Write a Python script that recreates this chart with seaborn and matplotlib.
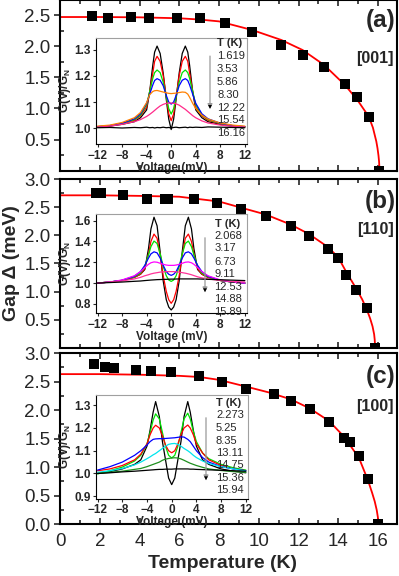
import numpy as np
import pandas as pd
import matplotlib
matplotlib.use("Agg")
import matplotlib.pyplot as plt
import seaborn as sns
from matplotlib.ticker import MultipleLocator, FormatStrFormatter

sns.set_style("ticks")
plt.rcParams['font.family'] = ['Liberation Sans', 'DejaVu Sans']
plt.rcParams['mathtext.fontset'] = 'custom'
plt.rcParams['mathtext.bf'] = 'Liberation Sans:bold'
plt.rcParams['mathtext.rm'] = 'Liberation Sans'

# ---------------- main panel data ----------------
a_T = [1.62, 2.43, 3.56, 4.48, 5.89, 7.06, 8.32, 9.68, 11.14, 12.22, 13.28, 14.34, 14.96, 15.54, 16.03]
a_gap = [2.48, 2.46, 2.47, 2.46, 2.46, 2.46, 2.37, 2.23, 2.02, 1.86, 1.66, 1.39, 1.18, 0.87, 0.0]
a_fitT = [0, 2, 4, 6, 7, 8, 9.68, 11.14, 12.2, 13.28, 14.34, 14.96, 15.53, 15.74, 15.91, 15.97, 16.02, 16.05, 16.07]
a_fit = [2.47, 2.47, 2.465, 2.45, 2.43, 2.40, 2.26, 2.10, 1.94, 1.70, 1.375, 1.135, 0.87, 0.69, 0.47, 0.36, 0.24, 0.14, 0.0]

b_T = [1.80, 2.07, 3.17, 4.40, 5.28, 5.45, 6.73, 7.90, 9.11, 10.34, 11.61, 12.53, 13.48, 13.99, 14.41, 14.88, 15.42, 15.85]
b_gap = [2.76, 2.76, 2.72, 2.65, 2.65, 2.64, 2.64, 2.58, 2.46, 2.34, 2.17, 1.98, 1.76, 1.59, 1.29, 1.03, 0.71, 0.0]
b_fitT = [0, 2, 4, 6, 8, 9.11, 10.34, 11.61, 12.53, 13.48, 13.99, 14.41, 14.87, 15.2, 15.42, 15.6, 15.72, 15.8, 15.83, 15.85]
b_fit = [2.71, 2.71, 2.70, 2.685, 2.60, 2.49, 2.37, 2.19, 2.02, 1.79, 1.61, 1.34, 1.07, 0.86, 0.69, 0.52, 0.38, 0.24, 0.14, 0.0]

c_T = [1.69, 2.28, 2.73, 3.80, 4.56, 5.58, 7.0, 8.17, 9.38, 10.77, 11.6, 12.56, 13.53, 14.3, 14.6, 15.04, 15.49, 16.0]
c_gap = [2.80, 2.76, 2.73, 2.70, 2.68, 2.66, 2.59, 2.49, 2.37, 2.29, 2.16, 2.02, 1.79, 1.51, 1.44, 1.19, 0.80, 0.0]
c_fitT = [0, 2, 4, 6, 7, 8, 9.38, 10.5, 11.6, 12.56, 13.53, 14.3, 15.04, 15.49, 15.7, 15.83, 15.93, 15.99, 16.02]
c_fit = [2.63, 2.63, 2.62, 2.60, 2.58, 2.53, 2.41, 2.31, 2.19, 2.03, 1.81, 1.53, 1.16, 0.77, 0.55, 0.40, 0.25, 0.12, 0.0]

# ---------------- inset data ----------------
Va = [-12, -10, -8, -6, -5, -4, -3.5, -3, -2.7, -2.3, -1.8, -1.3, -0.8, -0.4, 0,
      0.4, 0.8, 1.3, 1.8, 2.3, 2.7, 3, 3.5, 4, 5, 6, 8, 10, 12]
a_G1 = [1.005, 1.008, 1.015, 1.025, 1.04, 1.07, 1.14, 1.24, 1.29, 1.313, 1.285, 1.21, 1.11, 1.035, 0.995,
        1.035, 1.11, 1.21, 1.285, 1.313, 1.29, 1.24, 1.14, 1.07, 1.04, 1.025, 1.015, 1.008, 1.005]
a_G2 = [1.006, 1.009, 1.017, 1.03, 1.047, 1.08, 1.14, 1.21, 1.255, 1.274, 1.255, 1.2, 1.12, 1.055, 1.029,
        1.055, 1.12, 1.2, 1.255, 1.274, 1.255, 1.21, 1.14, 1.08, 1.047, 1.03, 1.017, 1.009, 1.006]
a_G3 = [1.006, 1.01, 1.018, 1.033, 1.05, 1.09, 1.14, 1.19, 1.212, 1.222, 1.212, 1.175, 1.12, 1.075, 1.054,
        1.075, 1.12, 1.175, 1.212, 1.222, 1.212, 1.19, 1.14, 1.09, 1.05, 1.033, 1.018, 1.01, 1.006]
a_G4 = [1.006, 1.01, 1.019, 1.036, 1.055, 1.095, 1.13, 1.165, 1.182, 1.189, 1.183, 1.162, 1.125, 1.1, 1.092,
        1.1, 1.125, 1.162, 1.183, 1.189, 1.182, 1.165, 1.13, 1.095, 1.055, 1.036, 1.019, 1.01, 1.006]
a_G5 = [1.008, 1.012, 1.022, 1.04, 1.06, 1.098, 1.128, 1.14, 1.143, 1.144, 1.141, 1.138, 1.135, 1.133, 1.132,
        1.133, 1.134, 1.136, 1.138, 1.137, 1.13, 1.118, 1.095, 1.075, 1.05, 1.035, 1.02, 1.012, 1.008]
a_G6 = [1.004, 1.008, 1.015, 1.025, 1.033, 1.045, 1.053, 1.062, 1.068, 1.076, 1.085, 1.091, 1.095, 1.096, 1.096,
        1.095, 1.093, 1.088, 1.08, 1.072, 1.064, 1.058, 1.048, 1.04, 1.028, 1.02, 1.012, 1.007, 1.004]
a_G7 = [1.002, 1.003, 1.001, 1.003, 1.002, 1.004, 1.002, 1.003, 1.001, 1.003, 1.002, 1.004, 1.002, 1.003, 1.001,
        1.003, 1.004, 1.002, 1.003, 1.004, 1.002, 1.004, 1.003, 1.004, 1.003, 1.005, 1.004, 1.003, 1.002]
a_temps = ['1.619', '3.53', '5.86', '8.30', '12.22', '15.54', '16.16']
a_colors = ['black', '#ff0000', '#00e000', '#0000ff', '#ff8000', '#ff2a8a', 'black']

Vb = [-12, -10, -8, -6, -5, -4.3, -3.7, -3.3, -2.8, -2.3, -1.8, -1.3, -0.8, -0.4, 0,
      0.4, 0.8, 1.3, 1.8, 2.3, 2.8, 3.3, 3.7, 4.3, 5, 6, 8, 10, 12]
b_G1 = [1.0, 1.01, 1.025, 1.055, 1.085, 1.13, 1.33, 1.52, 1.632, 1.55, 1.3, 1.02, 0.84, 0.77, 0.742,
        0.77, 0.84, 1.02, 1.3, 1.55, 1.632, 1.52, 1.33, 1.13, 1.085, 1.055, 1.025, 1.01, 1.0]
b_G2 = [1.0, 1.01, 1.025, 1.055, 1.085, 1.14, 1.28, 1.4, 1.47, 1.43, 1.27, 1.07, 0.92, 0.84, 0.806,
        0.84, 0.92, 1.07, 1.27, 1.43, 1.47, 1.4, 1.28, 1.14, 1.085, 1.055, 1.025, 1.01, 1.0]
b_G3 = [1.0, 1.01, 1.025, 1.06, 1.095, 1.16, 1.27, 1.35, 1.403, 1.38, 1.28, 1.16, 1.07, 1.03, 1.016,
        1.03, 1.07, 1.16, 1.28, 1.38, 1.403, 1.35, 1.27, 1.16, 1.095, 1.06, 1.025, 1.01, 1.0]
b_G4 = [1.0, 1.01, 1.027, 1.065, 1.11, 1.17, 1.24, 1.28, 1.30, 1.29, 1.24, 1.17, 1.11, 1.085, 1.074,
        1.085, 1.11, 1.17, 1.24, 1.29, 1.30, 1.28, 1.24, 1.17, 1.11, 1.065, 1.027, 1.01, 1.0]
b_G5 = [1.0, 1.01, 1.03, 1.07, 1.11, 1.15, 1.18, 1.195, 1.203, 1.2, 1.19, 1.18, 1.173, 1.17, 1.17,
        1.17, 1.173, 1.18, 1.19, 1.2, 1.203, 1.195, 1.18, 1.15, 1.11, 1.07, 1.03, 1.01, 1.0]
b_G6 = [1.0, 1.01, 1.02, 1.04, 1.055, 1.07, 1.08, 1.088, 1.095, 1.1, 1.105, 1.108, 1.11, 1.11, 1.11,
        1.11, 1.108, 1.105, 1.1, 1.095, 1.088, 1.08, 1.072, 1.06, 1.05, 1.04, 1.025, 1.015, 1.01]
b_G7 = [1.0, 1.005, 1.01, 1.017, 1.02, 1.024, 1.027, 1.029, 1.031, 1.033, 1.034, 1.035, 1.036, 1.037, 1.038,
        1.038, 1.039, 1.04, 1.04, 1.04, 1.04, 1.04, 1.04, 1.04, 1.038, 1.036, 1.032, 1.028, 1.024]
b_temps = ['2.068', '3.17', '6.73', '9.11', '12.53', '14.88', '15.89']
b_colors = ['black', '#ff0000', '#00e000', '#0000ff', '#ff00ff', '#ff3399', 'black']

Vc = [-12, -10, -8, -6, -5, -4, -3.5, -3, -2.6, -2, -1.5, -1, -0.5, 0,
      0.5, 1, 1.5, 2, 2.6, 3, 3.5, 4, 5, 6, 8, 10, 12]
c_G1 = [1.0, 1.008, 1.02, 1.04, 1.06, 1.12, 1.19, 1.27, 1.316, 1.25, 1.14, 1.06, 0.98, 0.951,
        0.98, 1.06, 1.14, 1.25, 1.316, 1.27, 1.19, 1.12, 1.06, 1.04, 1.02, 1.01, 1.003]
c_G2 = [0.998, 1.012, 1.028, 1.055, 1.08, 1.13, 1.18, 1.235, 1.262, 1.24, 1.18, 1.12, 1.08, 1.068,
        1.08, 1.12, 1.18, 1.24, 1.265, 1.24, 1.185, 1.14, 1.09, 1.065, 1.04, 1.025, 1.015]
c_G3 = [1.012, 1.02, 1.035, 1.06, 1.085, 1.13, 1.17, 1.2, 1.212, 1.2, 1.165, 1.125, 1.1, 1.091,
        1.1, 1.13, 1.17, 1.2, 1.213, 1.2, 1.17, 1.13, 1.09, 1.06, 1.035, 1.02, 1.012]
c_G4 = [1.015, 1.03, 1.05, 1.08, 1.1, 1.125, 1.14, 1.15, 1.152, 1.153, 1.153, 1.154, 1.155, 1.156,
        1.157, 1.159, 1.161, 1.16, 1.15, 1.14, 1.12, 1.1, 1.07, 1.05, 1.03, 1.02, 1.012]
c_G5 = [1.005, 1.012, 1.022, 1.038, 1.05, 1.065, 1.073, 1.082, 1.088, 1.1, 1.11, 1.12, 1.128, 1.131,
        1.132, 1.128, 1.12, 1.11, 1.1, 1.092, 1.08, 1.07, 1.055, 1.044, 1.03, 1.02, 1.01]
c_G6 = [1.0, 1.005, 1.01, 1.018, 1.022, 1.03, 1.035, 1.04, 1.044, 1.05, 1.058, 1.063, 1.066, 1.068,
        1.069, 1.068, 1.064, 1.058, 1.05, 1.045, 1.04, 1.035, 1.027, 1.02, 1.013, 1.008, 1.005]
c_G7 = [1.0, 1.003, 1.007, 1.01, 1.012, 1.014, 1.015, 1.016, 1.017, 1.018, 1.018, 1.019, 1.019, 1.019,
        1.02, 1.02, 1.02, 1.02, 1.02, 1.019, 1.019, 1.018, 1.017, 1.016, 1.014, 1.012, 1.01]
c_temps = ['2.273', '5.25', '8.35', '13.11', '14.75', '15.36', '15.94']
c_colors = ['black', '#00e000', '#ff0000', '#0000ff', '#00e5ee', '#1f8f1f', 'black']

panel_tags = ['(a)', '(b)', '(c)']
directions = ['[001]', '[110]', '[100]']

# ---------------- layout helpers ----------------
W, H = 399, 576
fig = plt.figure(figsize=(W / 100, H / 100), dpi=100)


def rect(l, t, r, b):
    return [l / W, 1 - b / H, (r - l) / W, (b - t) / H]


def fx(x):
    return x / W


def fy(y):
    return 1 - y / H


main_rects = [rect(60, -0.4, 397, 170.7), rect(60, 179, 397, 347.8), rect(60, 353, 397, 524.3)]
ylims = [(0, 2.75), (0, 3.0), (0, 3.0)]
yticks = [[0.5, 1.0, 1.5, 2.0, 2.5], [0.5, 1.0, 1.5, 2.0, 2.5, 3.0], [0.0, 0.5, 1.0, 1.5, 2.0, 2.5, 3.0]]
pts = [(a_T, a_gap), (b_T, b_gap), (c_T, c_gap)]
fits = [(a_fitT, a_fit), (b_fitT, b_fit), (c_fitT, c_fit)]

axes = []
for i in range(3):
    ax = fig.add_axes(main_rects[i])
    sns.lineplot(x=fits[i][0], y=fits[i][1], ax=ax, color='#ff0000', lw=1.3,
                 estimator=None, sort=False, zorder=2)
    sns.scatterplot(x=pts[i][0], y=pts[i][1], ax=ax, marker='s', s=46, color='black',
                    edgecolor='black', linewidth=0, zorder=3)
    ax.set_xlim(0, 16.95)
    ax.set_ylim(*ylims[i])
    ax.set_yticks(yticks[i])
    ax.yaxis.set_major_formatter(FormatStrFormatter('%.1f'))
    ax.yaxis.set_minor_locator(MultipleLocator(0.25))
    ax.xaxis.set_major_locator(MultipleLocator(2))
    ax.xaxis.set_minor_locator(MultipleLocator(1))
    for sp in ax.spines.values():
        sp.set_linewidth(1.5)
        sp.set_color('black')
        sp.set_visible(True)
    ax.tick_params(axis='x', which='both', direction='in', top=True, bottom=True, width=1.2)
    ax.tick_params(axis='x', which='major', length=4.5, labelsize=13.5, pad=6)
    ax.tick_params(axis='x', which='minor', length=3)
    ax.tick_params(axis='y', which='major', direction='out', length=4, width=1.2, labelsize=13.5, pad=3,
                   left=True, right=False)
    ax.tick_params(axis='y', which='minor', direction='in', length=3, width=1.2, left=True, right=False)
    ax.set_xlabel('')
    ax.set_ylabel('')
    if i < 2:
        ax.tick_params(axis='x', labelbottom=False)
    axes.append(ax)

# panel tags
tag_y = [20, 201.7, 376]
dir_y = [58.3, 229.3, 406.7]
for i in range(3):
    fig.text(fx(395.5), fy(tag_y[i]), panel_tags[i], ha='right', va='center',
             fontsize=17.5, fontweight='bold')
    fig.text(fx(394), fy(dir_y[i]), directions[i], ha='right', va='center',
             fontsize=11.5, fontweight='bold')

fig.text(fx(12), fy(263), 'Gap \u0394 (meV)', rotation=90, ha='center', va='center',
         fontsize=14, fontweight='bold')
fig.text(fx(222), fy(563), 'Temperature (K)', ha='center', va='center',
         fontsize=14, fontweight='bold')

# ---------------- insets ----------------
inset_rects = [rect(96, 37.7, 247, 144), rect(96, 214.3, 247, 313.3), rect(96, 395, 248, 498.5)]
inset_ylims = [(0.94, 1.345), (0.71, 1.66), (0.89, 1.345)]
inset_yticks = [[1.0, 1.1, 1.2, 1.3], [0.8, 1.0, 1.2, 1.4, 1.6], [0.9, 1.0, 1.1, 1.2, 1.3]]
inset_V = [Va, Vb, Vc]
inset_G = [[a_G1, a_G2, a_G3, a_G4, a_G5, a_G6, a_G7],
           [b_G1, b_G2, b_G3, b_G4, b_G5, b_G6, b_G7],
           [c_G1, c_G2, c_G3, c_G4, c_G5, c_G6, c_G7]]
inset_colors = [a_colors, b_colors, c_colors]
inset_temps = [a_temps, b_temps, c_temps]
text_x = [217, 214.5, 216]
text_y = [[43.3, 56, 69.3, 82.3, 94.7, 108.3, 120, 133.3],
          [224.3, 235.7, 248.3, 261.7, 274.3, 286.7, 299, 311.7],
          [403.3, 415, 428.3, 440.7, 453.3, 465, 478.3, 490]]
arrows = [(210, 53.3, 111.7), (205, 235, 295), (206, 415, 483)]

for i in range(3):
    ins = fig.add_axes(inset_rects[i])
    ins.set_facecolor('white')
    ins.set_zorder(5)
    for G, col in zip(inset_G[i], inset_colors[i]):
        sns.lineplot(x=inset_V[i], y=G, ax=ins, color=col, lw=0.9, estimator=None, sort=False)
    ins.set_xlim(-12.25, 12.35)
    ins.set_ylim(*inset_ylims[i])
    ins.set_xticks([-12, -8, -4, 0, 4, 8, 12])
    ins.set_yticks(inset_yticks[i])
    ins.yaxis.set_major_formatter(FormatStrFormatter('%.1f'))
    ins.tick_params(direction='out', length=2.5, width=0.8, labelsize=8.5, pad=1.5)
    for lab in ins.get_xticklabels() + ins.get_yticklabels():
        lab.set_fontweight('bold')
    for side in ['left', 'bottom']:
        ins.spines[side].set_color('black')
        ins.spines[side].set_linewidth(0.8)
    for side in ['top', 'right']:
        ins.spines[side].set_visible(True)
        ins.spines[side].set_color('#a0a0a0')
        ins.spines[side].set_linewidth(0.8)
    ins.set_xlabel('Voltage (mV)', fontsize=8.5, fontweight='bold', labelpad=0)
    ins.set_ylabel(r'G(V)/G$_\mathbf{N}$', fontsize=8.5, fontweight='bold', labelpad=1)

    ys = text_y[i]
    fig.text(fx(text_x[i]), fy(ys[0]), 'T (K)', ha='left', va='center', fontsize=8,
             fontweight='bold', zorder=10)
    for t, yy in zip(inset_temps[i], ys[1:]):
        fig.text(fx(text_x[i]), fy(yy), t, ha='left', va='center', fontsize=8, zorder=10)
    xa, ya0, ya1 = arrows[i]
    fig.add_artist(matplotlib.patches.FancyArrowPatch(
        (fx(xa), fy(ya0)), (fx(xa), fy(ya1)), transform=fig.transFigure,
        arrowstyle='-|>', mutation_scale=7, color='#999999', lw=0.9, zorder=10))
    fig.add_artist(matplotlib.patches.FancyArrowPatch(
        (fx(xa), fy(ya1 - 6)), (fx(xa), fy(ya1)), transform=fig.transFigure,
        arrowstyle='-|>', mutation_scale=7, color='black', lw=0.0, zorder=11))

fig.savefig('out.png', dpi=100)
